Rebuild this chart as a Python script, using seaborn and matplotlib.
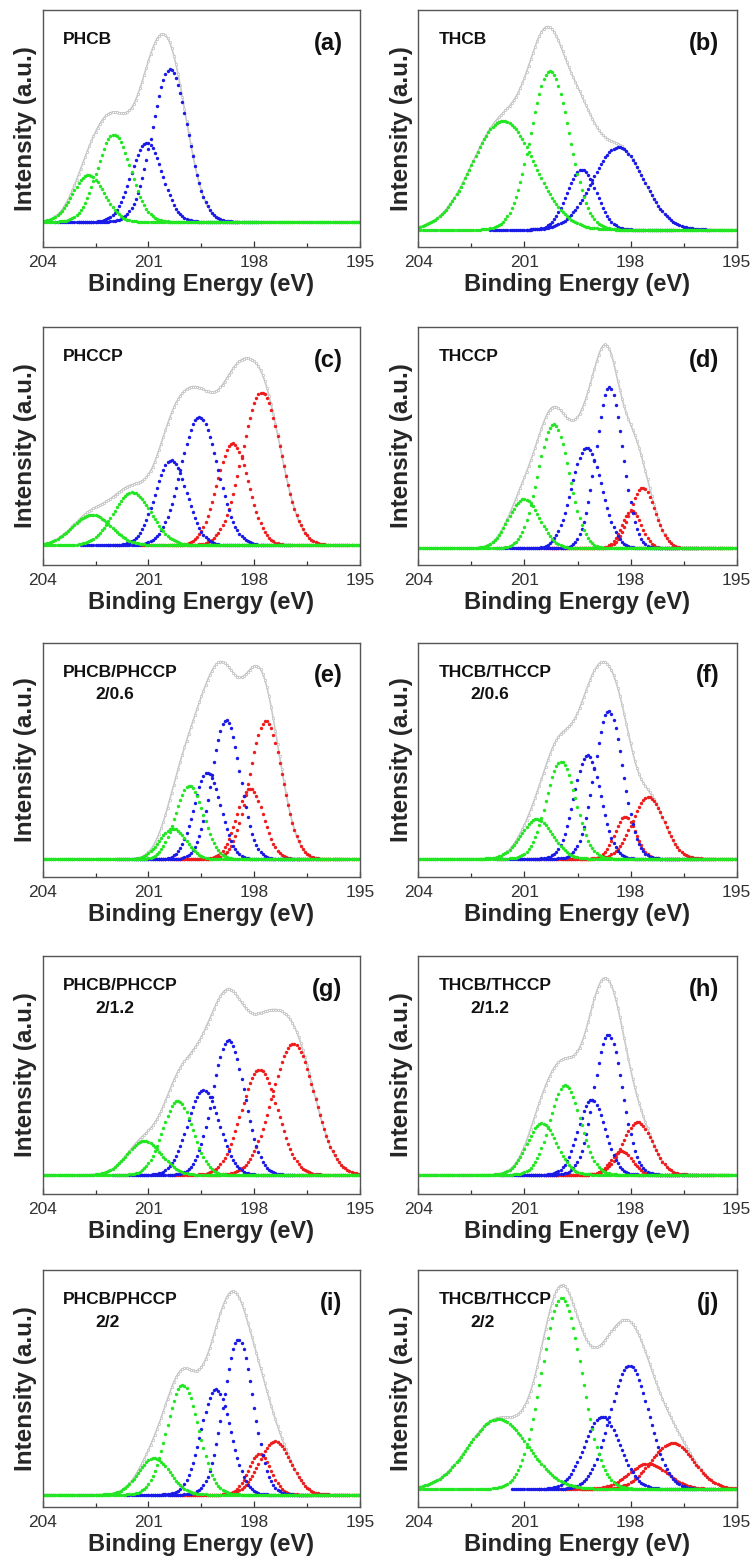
import numpy as np
import pandas as pd
import matplotlib
matplotlib.use('Agg')
import matplotlib.pyplot as plt
import seaborn as sns

# ---------- 样式 ----------
sns.set_theme(style='white')
plt.rcParams['font.family'] = ['Liberation Sans', 'DejaVu Sans']

# ---------- 数据（从图中读取的分峰参数：峰位 eV / 峰高 / 宽度 sigma eV） ----------
panel_tags = ['(a)', '(b)', '(c)', '(d)', '(e)', '(f)', '(g)', '(h)', '(i)', '(j)']
sample_names = ['PHCB', 'THCB', 'PHCCP', 'THCCP', 'PHCB/PHCCP', 'THCB/THCCP',
                'PHCB/PHCCP', 'THCB/THCCP', 'PHCB/PHCCP', 'THCB/THCCP']
sample_ratios = ['', '', '', '', '2/0.6', '2/0.6', '2/1.2', '2/1.2', '2/2', '2/2']

green_center = [[202.70, 201.98], [201.60, 200.28], [202.61, 201.46], [201.01, 200.18],
                [200.31, 199.84], [200.65, 199.97], [201.12, 200.17], [200.51, 199.85],
                [200.84, 200.03], [201.74, 199.95]]
green_height = [[0.197, 0.369], [0.460, 0.670], [0.128, 0.222], [0.207, 0.521],
                [0.131, 0.313], [0.169, 0.415], [0.142, 0.312], [0.216, 0.376],
                [0.154, 0.463], [0.295, 0.805]]
green_sigma = [[0.45, 0.47], [0.88, 0.54], [0.55, 0.54], [0.44, 0.44],
               [0.38, 0.40], [0.45, 0.42], [0.49, 0.43], [0.42, 0.43],
               [0.45, 0.45], [0.85, 0.57]]

blue_center = [[201.05, 200.39], [199.38, 198.35], [200.36, 199.56], [199.24, 198.60],
               [199.33, 198.80], [199.22, 198.62], [199.44, 198.73], [199.10, 198.63],
               [199.09, 198.45], [198.80, 198.03]]
blue_height = [[0.334, 0.644], [0.253, 0.348], [0.357, 0.539], [0.423, 0.676],
               [0.370, 0.594], [0.443, 0.632], [0.356, 0.567], [0.315, 0.590],
               [0.445, 0.653], [0.306, 0.520]]
blue_sigma = [[0.44, 0.50], [0.42, 0.72], [0.45, 0.52], [0.43, 0.38],
              [0.38, 0.40], [0.38, 0.40], [0.45, 0.45], [0.38, 0.40],
              [0.42, 0.42], [0.50, 0.55]]

red_center = [[], [], [198.61, 197.79], [197.97, 197.66],
              [198.12, 197.67], [198.15, 197.50], [197.85, 196.89], [198.25, 197.80],
              [197.85, 197.41], [197.50, 196.82]]
red_height = [[], [], [0.428, 0.642], [0.158, 0.254],
              [0.302, 0.591], [0.180, 0.263], [0.442, 0.551], [0.100, 0.221],
              [0.171, 0.225], [0.107, 0.194]]
red_sigma = [[], [], [0.45, 0.55], [0.28, 0.36],
             [0.38, 0.46], [0.30, 0.45], [0.52, 0.60], [0.30, 0.42],
             [0.32, 0.45], [0.55, 0.60]]

# 基线在坐标框中的相对位置
baseline_frac = [0.106, 0.073, 0.083, 0.070, 0.076, 0.078, 0.080, 0.081, 0.052, 0.076]

# ---------- 颜色 ----------
c_green = '#22e622'
c_blue = '#1a1ae6'
c_red = '#ee1c1c'
c_env = '#cacaca'


def gauss(x, c, h, s):
    return h * np.exp(-(x - c) ** 2 / (2 * s ** 2))


# ---------- 画布与子图位置 ----------
fig = plt.figure(figsize=(7.53, 15.64), dpi=100)
W, H = 753, 1564
col_left = [42.7, 418.3]
col_width = [317.3, 318.4]
row_top = [10, 327, 643, 956, 1270]
row_bot = [247, 565, 877, 1194, 1507]

x_full = np.arange(195.0, 204.0001, 0.06)
x_env = np.arange(195.0, 204.0001, 0.03)

for i in range(10):
    r, c = divmod(i, 2)
    ax = fig.add_axes([col_left[c] / W, 1 - row_bot[r] / H,
                       col_width[c] / W, (row_bot[r] - row_top[r]) / H])

    # 包络线 = 各分峰之和
    env = np.zeros_like(x_env)
    for cs, hs, ss in [(green_center[i], green_height[i], green_sigma[i]),
                       (blue_center[i], blue_height[i], blue_sigma[i]),
                       (red_center[i], red_height[i], red_sigma[i])]:
        for cc, hh, sg in zip(cs, hs, ss):
            env += gauss(x_env, cc, hh, sg)
    sns.lineplot(x=x_env, y=env, color=c_env, lw=1.2, estimator=None, sort=False,
                 ax=ax, zorder=1)
    ax.plot(x_env[::2], env[::2], ls='none', marker='o', ms=1.7, mfc='white',
            mec='#bdbdbd', mew=0.5, zorder=1)

    # 红、蓝分峰（局部范围）
    for cs, hs, ss, col in [(red_center[i], red_height[i], red_sigma[i], c_red),
                            (blue_center[i], blue_height[i], blue_sigma[i], c_blue)]:
        for cc, hh, sg in zip(cs, hs, ss):
            xs = x_full[(x_full > cc - 2.6) & (x_full < cc + 2.6)]
            sns.scatterplot(x=xs, y=gauss(xs, cc, hh, sg), color=col, s=6,
                            linewidth=0, ax=ax, zorder=3)
    # 绿色分峰（全范围）
    for cc, hh, sg in zip(green_center[i], green_height[i], green_sigma[i]):
        sns.scatterplot(x=x_full, y=gauss(x_full, cc, hh, sg), color=c_green, s=6,
                        linewidth=0, ax=ax, zorder=4)

    ax.set_xlim(204, 195)
    b = baseline_frac[i]
    ax.set_ylim(-b, 1 - b)
    ax.set_xticks([204, 201, 198, 195])
    ax.set_xticks([202.5, 199.5, 196.5], minor=True)
    ax.set_yticks([])
    ax.tick_params(axis='x', which='both', direction='in', bottom=True, top=False,
                   labelsize=12.5, colors='#333333', pad=6)
    ax.tick_params(axis='x', which='major', length=4, width=0.9)
    ax.tick_params(axis='x', which='minor', length=3, width=0.9)
    for sp in ax.spines.values():
        sp.set_color('#555555')
        sp.set_linewidth(1.0)
        sp.set_zorder(5)

    ax.set_xlabel('Binding Energy (eV)', fontsize=17, fontweight='bold', labelpad=2)
    ax.set_ylabel('Intensity (a.u.)', fontsize=17.5, fontweight='bold', labelpad=4)

    ax.text(0.063, 0.875, sample_names[i], transform=ax.transAxes, fontsize=12.5,
            fontweight='bold', ha='left', va='center', color='#111111')
    if sample_ratios[i]:
        ax.text(0.165, 0.78, sample_ratios[i], transform=ax.transAxes, fontsize=12.5,
                fontweight='bold', ha='left', va='center', color='#111111')
    ax.text(0.945, 0.86, panel_tags[i], transform=ax.transAxes, fontsize=17,
            fontweight='bold', ha='right', va='center', color='#111111')

fig.savefig('out.png', dpi=100)
